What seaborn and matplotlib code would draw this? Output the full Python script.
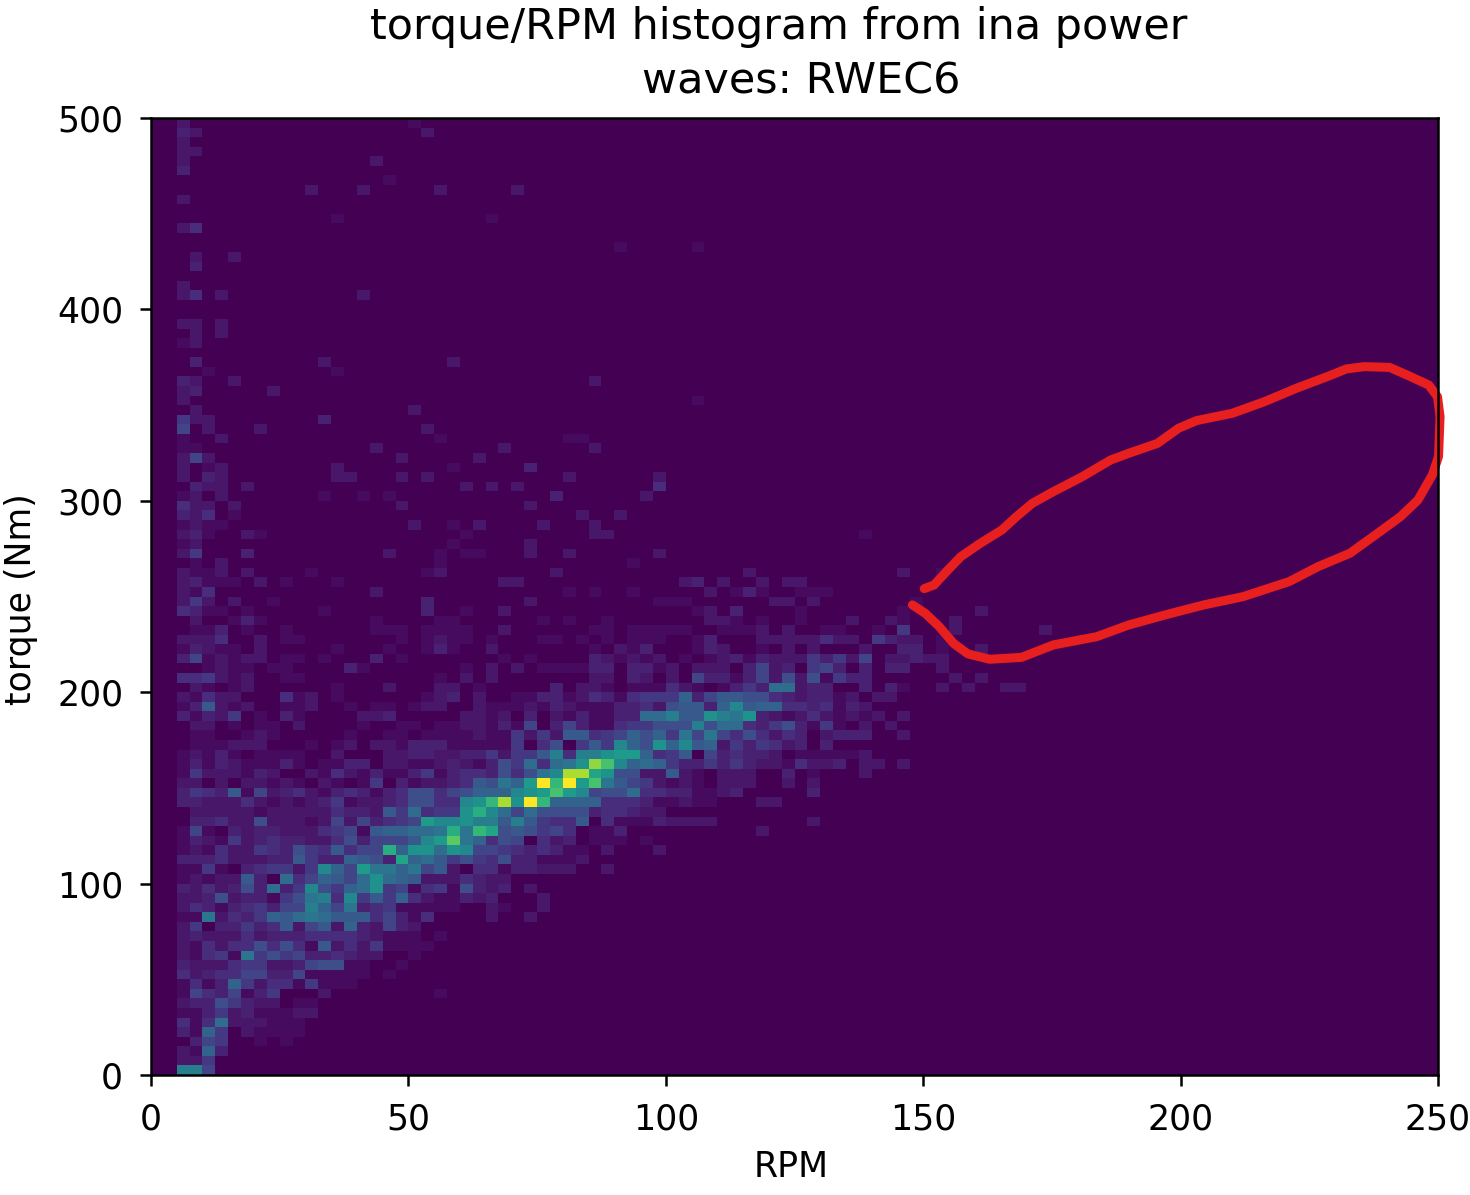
import numpy as np
import seaborn as sns
import matplotlib.pyplot as plt
from matplotlib.colors import PowerNorm

rpm_max = 250
torque_max = 500
n_bins = 100
first_rpm_bin = 2
count_max = 26

rpm_ticks = [0, 50, 100, 150, 200, 250]
torque_ticks = [0, 100, 200, 300, 400, 500]

# one string per torque bin, one base-36 count per rpm bin, starting at first_rpm_bin
counts_0_to_80 = [
    "cc6",
    "225",
    "2193",
    "036500101",
    "3195021111",
    "414a222111",
    "11352311122",
    "23375322011",
    "16436135000200000000 1",
    "14139524415111",
    "42344663361111101",
    "322245522367711001",
    "21451b5756334322001",
    "21424474741824251111",
    "232224233344443211101",
    "2503353482682932632",
]
counts_80_to_160 = [
    "11b243598aba88846314 0000 2002",
    "2431345366c96b34511111 00 21002",
    "2237233157bc4d58594211323 0002",
    "3242373a35d759ae561451732 302",
    "12122830a46986aea98222432 2",
    "11510345525d96fbb9b682044 133222002",
    "33342223385339873 g9a85754 7331112",
    "1214225437548466h 9eeaed66 5434311020002",
    "13215234332247366 68dfkb94 760423011101",
    "16103233222456189 9aabhbig 7875640113 0000000000 2",
    "03342272221262634 56fddecc 8c85448041113222 2 0000000 2",
    "02222212222243328 5a455ehd a6a7777344322",
    "33222421212351223 47744dei neqi999944431121 1000 22",
    "35438162342134313 47746799 9defjfd677a443311230 00003",
    "22020221210210150 31223487 b9fqiqfjb86521210222 00202",
    "15222132002142131 13513443 747bdnnge77228210222 003010002",
]
counts_160_to_265 = [
    "13132111310113302 21123213 75a4abemjd9a95335353 221422302202",
    "12131011110020002 23322335 2558c4ccef f945806343 320111112",
    "01112220001012022 13331111 150470585d 97e9d89253 542303",
    "01100121000001001 10111121 1525288456 9795b6b647 424302333002",
    "02201011020000100 11011221 3160363114 55777c7aa4 35731510202",
    "31325010310000223 00000221 2030213113 3aac88ecbe 321242121202",
    "13821200112001011 01220021 1121321113 34278839d8 994434132",
    "21422000412010000 00123020 0113312431 4555936887 74323312022",
    "02101200000010002 00022010 0000302210 1114210135 3aa233003031002020022",
    "44521200110000000 00010202 0000000220 3202063313 627271533000000202",
    "00121101100003100 00000102 0201111330 3312022203 623056303033002",
    "36121220110100030 10000000 1010000321 2120101231 322253526022322",
    "13211020000010001 00131002 0000000102 1300013200 102020002003301002",
    "22240020110000000 10121101 0001101010 1110013000 222224220532201",
    "01130100100000011 10111100 2000000110 1111100111 2020011001050002 000000 2",
    "02001310000000010 00011000 0001010010 0000002210 1001000200210002",
    "43110100000100000 00300100 2 00000000000000 1 2030 000100000001000002",
    "25202001000000000 00300000 002 000000000 111 00000 0220200000001",
    "214 000000000000 20 00000000 00000 101001 00000 2013 100111",
    "23111020100010000 00000000 22 000000000000 23 0 2 00 2022",
    "21120200001000000 00120000 0000 2 00000000000000 2 00000000000 2 00 1",
]

# sparse upper part: torque bin -> {rpm bin: count}
upper_tail = {
    53: {3: 1, 5: 2, 22: 1, 37: 1},
    54: {2: 2, 3: 5, 7: 3, 18: 2, 22: 1, 24: 1, 25: 1, 29: 2, 32: 2, 39: 2},
    55: {2: 1, 3: 2, 23: 1, 29: 2},
    56: {2: 2, 3: 3, 4: 1, 7: 2, 8: 1, 24: 1, 34: 2, 35: 2, 55: 1},
    57: {2: 1, 3: 2, 4: 1, 5: 1, 20: 2, 23: 1, 25: 2, 30: 2, 34: 2},
    58: {2: 3, 3: 2, 4: 4, 6: 1, 33: 2, 36: 2},
    59: {2: 4, 3: 2, 4: 2, 6: 2, 19: 2, 29: 2},
    60: {2: 1, 3: 2, 5: 2, 13: 1, 16: 1, 18: 1, 31: 3, 38: 2},
    61: {3: 3, 4: 2, 5: 2, 7: 2, 24: 2, 26: 2, 28: 2, 39: 4},
    62: {2: 2, 4: 3, 5: 2, 14: 2, 15: 2, 19: 2, 21: 2, 32: 2, 39: 2},
    63: {2: 2, 4: 1, 5: 2, 14: 2, 23: 1, 29: 3},
    64: {2: 2, 3: 6, 4: 2, 19: 2, 25: 2},
    65: {2: 1, 3: 1, 17: 2, 27: 2, 34: 2},
    66: {2: 1, 5: 2, 22: 1, 32: 1, 33: 1},
    67: {2: 6, 4: 2, 8: 2, 21: 2},
    68: {2: 5, 3: 2, 4: 2, 13: 3},
    69: {3: 2, 20: 2},
    70: {2: 2, 42: 1},
    71: {2: 2, 3: 3, 9: 2},
    72: {2: 3, 3: 2, 6: 2, 34: 2},
    73: {4: 1, 14: 1},
    74: {3: 3, 13: 2, 23: 2},
    76: {2: 1, 3: 2},
    77: {3: 2, 5: 2},
    78: {2: 2, 3: 2, 5: 2},
    81: {2: 2, 3: 4, 5: 2, 16: 2},
    82: {2: 2},
    84: {3: 3},
    85: {3: 2, 6: 2},
    86: {36: 1, 42: 1},
    88: {2: 2, 3: 4},
    89: {14: 1, 26: 1},
    91: {2: 2},
    92: {12: 2, 16: 2, 22: 2, 28: 2},
    93: {18: 1},
    94: {2: 3},
    95: {2: 2, 17: 2},
    96: {2: 2, 3: 2},
    97: {2: 2},
    98: {2: 3, 3: 2, 21: 2},
    99: {2: 2, 20: 1},
}

# hand drawn red outline on the picture
outline_rpm = [150.2, 152.1, 154.5, 157.3, 161.1, 165.3, 168.1, 171.2, 175.3, 180.9, 186.4, 189.9,
               195.5, 199.6, 203.1, 210.0, 216.3, 222.5, 228.8, 232.2, 235.7, 240.6, 244.0, 248.2,
               249.9, 250.4, 250.1, 248.9, 246.1, 242.7, 237.8, 232.9, 226.7, 221.1, 212.1, 204.5,
               196.9, 189.9, 183.7, 175.3, 169.1, 162.9, 158.7, 155.9, 153.1, 150.4, 147.9]
outline_torque = [254.1, 256.0, 263.0, 270.8, 277.8, 284.8, 291.7, 298.7, 304.8, 312.6, 321.3, 324.8,
                  330.0, 337.9, 341.9, 345.7, 351.8, 358.8, 365.2, 368.9, 370.1, 369.7, 365.7, 360.5,
                  354.4, 344.0, 323.1, 313.5, 300.4, 291.7, 282.1, 272.6, 265.6, 257.8, 249.9, 245.6,
                  240.3, 235.1, 229.0, 224.7, 218.2, 217.2, 220.0, 225.5, 234.3, 241.2, 245.6]


def build_counts():
    hist = np.zeros([n_bins, n_bins])
    rows = counts_0_to_80 + counts_80_to_160 + counts_160_to_265
    for j, row in enumerate(rows):
        vals = [int(c, 36) for c in row.replace(" ", "")]
        hist[j, first_rpm_bin:first_rpm_bin + len(vals)] = vals
    for j, cells in upper_tail.items():
        for i, count in cells.items():
            hist[j, i] = count
    return hist


def main():
    sns.set_style("ticks")
    plt.rcParams['font.family'] = ['DejaVu Sans']

    fig = plt.figure(figsize=(14.7, 11.95), dpi=100)
    ax = fig.add_axes([151 / 1470, 1 - 1075 / 1195, 1287 / 1470, 957 / 1195])

    sns.heatmap(build_counts(), ax=ax, cmap="viridis", norm=PowerNorm(1.1, vmin=0, vmax=count_max),
                cbar=False, xticklabels=False, yticklabels=False, linewidths=0, rasterized=True)

    rpm_scale = n_bins / rpm_max
    torque_scale = n_bins / torque_max
    ax.set_xlim(0, n_bins)
    ax.set_ylim(0, n_bins)
    ax.set_xticks([t * rpm_scale for t in rpm_ticks], labels=[str(t) for t in rpm_ticks])
    ax.set_yticks([t * torque_scale for t in torque_ticks], labels=[str(t) for t in torque_ticks])
    ax.tick_params(axis="both", labelsize=25, length=8, width=1.8, color="black", labelcolor="black", pad=12)
    ax.tick_params(axis="y", labelrotation=0)

    for spine in ax.spines.values():
        spine.set_visible(True)
        spine.set_linewidth(1.8)
        spine.set_color("black")

    ax.plot(np.array(outline_rpm) * rpm_scale, np.array(outline_torque) * torque_scale,
            color="#e81f1f", lw=6.5, solid_capstyle="round", solid_joinstyle="round", clip_on=False)

    # second title line sits off-centre in the reference, so two separate texts
    fig.text(779 / 1470, 1 - 39 / 1195, "torque/RPM histogram from ina power",
             ha="center", va="baseline", fontsize=30.9, color="black")
    fig.text(801 / 1470, 1 - 94 / 1195, "waves: RWEC6",
             ha="center", va="baseline", fontsize=30.9, color="black")
    ax.set_xlabel("RPM", fontsize=25, color="black")
    ax.set_ylabel("torque (Nm)", fontsize=25, color="black")
    ax.xaxis.set_label_coords(0.4973, -0.078)
    ax.yaxis.set_label_coords(-0.0878, 0.4974)

    fig.savefig("out.png", dpi=100)


if __name__ == '__main__':
    main()
